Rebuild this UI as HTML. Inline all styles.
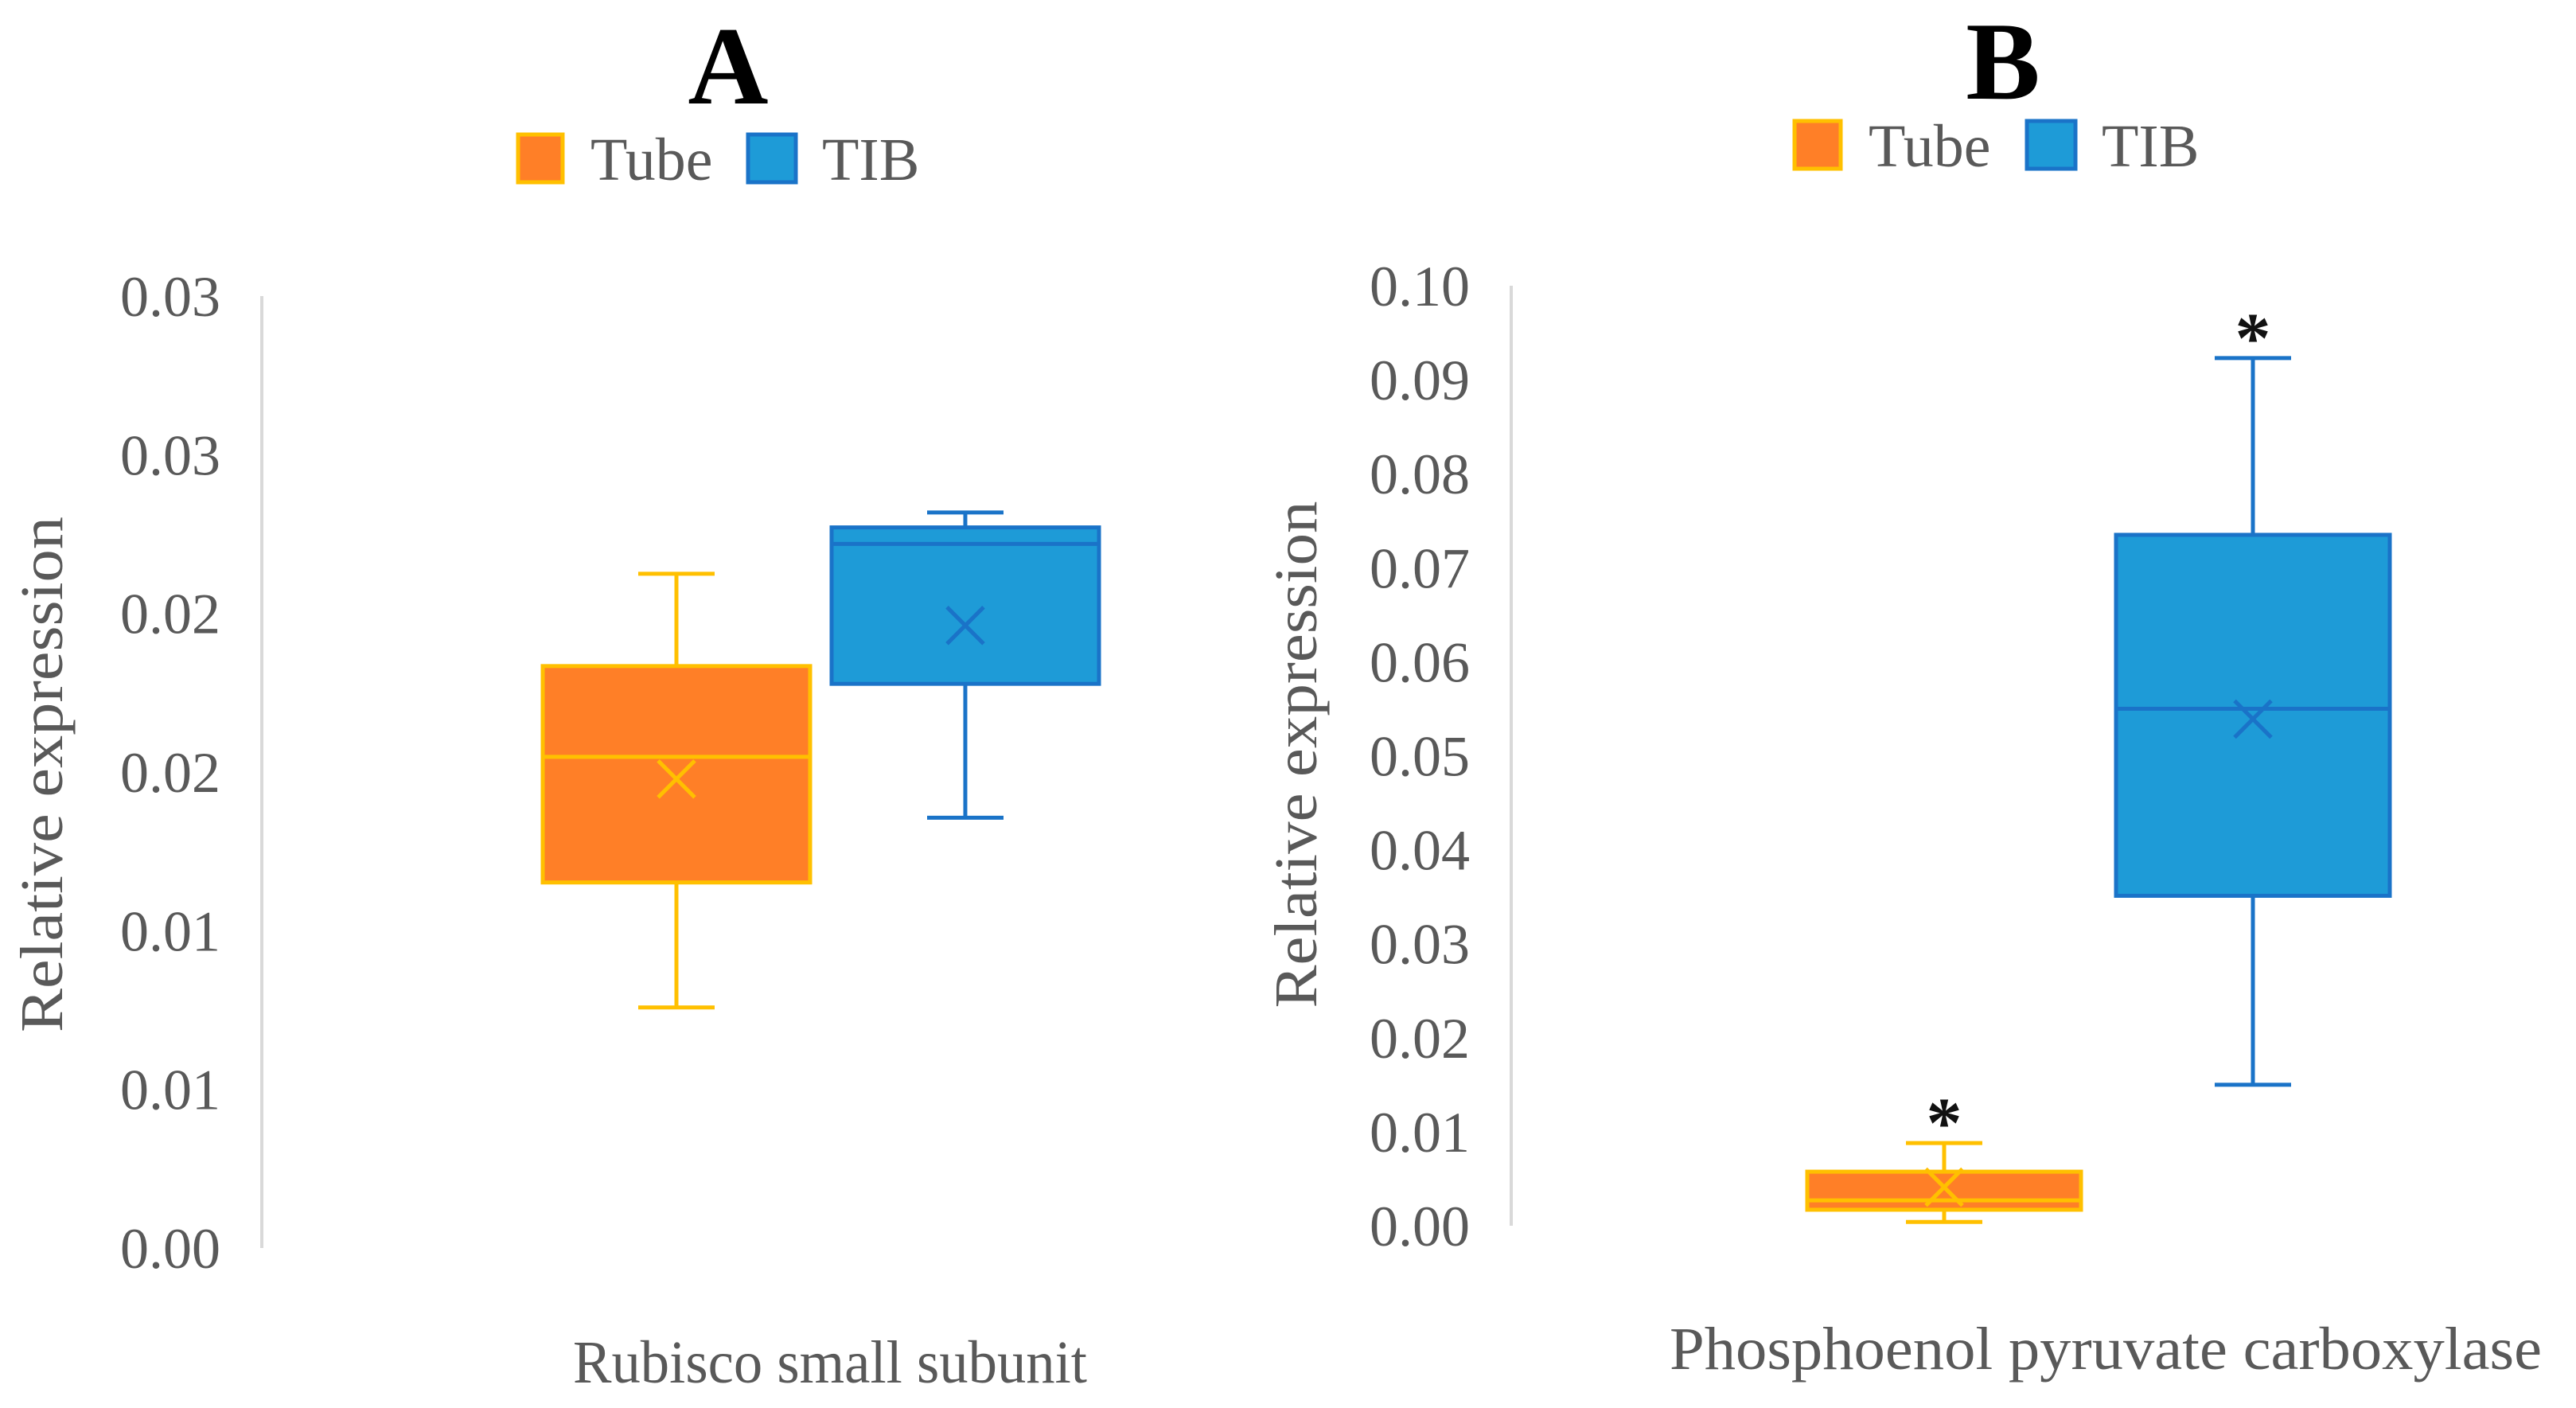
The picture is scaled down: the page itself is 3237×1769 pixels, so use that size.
<!DOCTYPE html>
<html><head><meta charset="utf-8"><style>
html,body{margin:0;padding:0;background:#fff;}
svg{display:block;font-family:"Liberation Serif","Times New Roman",serif;}
svg text{font-family:"Liberation Serif","Times New Roman",serif;}
</style></head><body>
<svg id="chart" width="3237" height="1769" viewBox="0 0 3237 1769" xmlns="http://www.w3.org/2000/svg" font-family="Liberation Serif, serif">
<g>
<text x="915" y="130" font-size="140" font-weight="bold" text-anchor="middle" fill="#000" font-family="Liberation Serif, serif">A</text>
<g>
<rect x="651" y="169" width="56" height="60" fill="#FF7F27" stroke="#FFC000" stroke-width="5"/>
<text x="742" y="226" font-size="76" fill="#595959" font-family="Liberation Serif, serif">Tube</text>
<rect x="940" y="169" width="60" height="60" fill="#1E9BD7" stroke="#1A73C8" stroke-width="5"/>
<text x="1033" y="226" font-size="76" fill="#595959" font-family="Liberation Serif, serif">TIB</text>
</g>
<text transform="translate(78,973) rotate(-90)" font-size="76" text-anchor="middle" fill="#595959" textLength="648" lengthAdjust="spacingAndGlyphs" font-family="Liberation Serif, serif">Relative  expression</text>
<text x="1043" y="1737" font-size="76" text-anchor="middle" fill="#595959" textLength="646" lengthAdjust="spacingAndGlyphs" font-family="Liberation Serif, serif">Rubisco small subunit</text>
<g id="axA"></g>
</g>
<g>
<text x="2517" y="124" font-size="140" font-weight="bold" text-anchor="middle" fill="#000" font-family="Liberation Serif, serif">B</text>
<g>
<rect x="2255" y="152" width="58" height="60" fill="#FF7F27" stroke="#FFC000" stroke-width="5"/>
<text x="2348" y="209" font-size="76" fill="#595959" font-family="Liberation Serif, serif">Tube</text>
<rect x="2547" y="152" width="61" height="60" fill="#1E9BD7" stroke="#1A73C8" stroke-width="5"/>
<text x="2641" y="209" font-size="76" fill="#595959" font-family="Liberation Serif, serif">TIB</text>
</g>
<text transform="translate(1654,948) rotate(-90)" font-size="76" text-anchor="middle" fill="#595959" textLength="637" lengthAdjust="spacingAndGlyphs" font-family="Liberation Serif, serif">Relative expression</text>
<text x="2646" y="1720" font-size="76" text-anchor="middle" fill="#595959" textLength="1096" lengthAdjust="spacingAndGlyphs" font-family="Liberation Serif, serif">Phosphoenol pyruvate carboxylase</text>
<g id="axB"></g>
</g>
</svg>
<script>
// Panel A data
const ticksA = [0, 0.005, 0.01, 0.015, 0.02, 0.025, 0.03];
const tickLabelsA = ["0.00","0.01","0.01","0.02","0.02","0.03","0.03"];
const seriesNames = ["Tube","TIB"];
const minA = [0.00758, 0.01356];
const q1A = [0.01152, 0.01778];
const medA = [0.01548, 0.02219];
const q3A = [0.01834, 0.02271];
const maxA = [0.02125, 0.02318];
const meanA = [0.01478, 0.01962];
const starA = [false, false];
// Panel B data
const ticksB = [0,0.01,0.02,0.03,0.04,0.05,0.06,0.07,0.08,0.09,0.10];
const tickLabelsB = ["0.00","0.01","0.02","0.03","0.04","0.05","0.06","0.07","0.08","0.09","0.10"];
const minB = [0.0004, 0.0150];
const q1B = [0.0017, 0.0351];
const medB = [0.0027, 0.0550];
const q3B = [0.00575, 0.0735];
const maxB = [0.0088, 0.0923];
const meanB = [0.0041, 0.0539];
const starB = [true, true];

const NS = "http://www.w3.org/2000/svg";
const fills = ["#FF7F27","#1E9BD7"], strokes = ["#FFC000","#1A73C8"];
function mk(tag, attrs, parent){const e=document.createElementNS(NS,tag);for(const k in attrs)e.setAttribute(k,attrs[k]);parent.appendChild(e);return e;}

function drawPanel(g, cfg){
  const y = v => cfg.y0 + (v - cfg.vmin)/(cfg.vmax - cfg.vmin)*(cfg.y1 - cfg.y0);
  const axis = mk('line',{x1:cfg.axisX,x2:cfg.axisX,y1:y(cfg.vmax),y2:y(cfg.vmin),stroke:'#d9d9d9','stroke-width':4},g);
  
  
  cfg.ticks.forEach((t,i)=>{
    const tx = mk('text',{x:cfg.labelX,y:y(t)+25,'font-size':72,'text-anchor':'end',fill:'#595959','font-family':'Liberation Serif, serif'},g);
    
    
    tx.textContent = cfg.tickLabels[i];
  });
  for(let i=0;i<2;i++){
    const cx = cfg.centers[i], hw = cfg.halfW, cw = 48;
    const bg = mk('g',{},g);
    
    
    const st = {stroke:strokes[i],'stroke-width':5};
    mk('line',Object.assign({x1:cx,x2:cx,y1:y(cfg.max[i]),y2:y(cfg.q3[i])},st),bg);
    mk('line',Object.assign({x1:cx,x2:cx,y1:y(cfg.q1[i]),y2:y(cfg.min[i])},st),bg);
    mk('line',Object.assign({x1:cx-cw,x2:cx+cw,y1:y(cfg.max[i]),y2:y(cfg.max[i])},st),bg);
    mk('line',Object.assign({x1:cx-cw,x2:cx+cw,y1:y(cfg.min[i]),y2:y(cfg.min[i])},st),bg);
    mk('rect',Object.assign({x:cx-hw,y:y(cfg.q3[i]),width:2*hw,height:y(cfg.q1[i])-y(cfg.q3[i]),fill:fills[i]},st),bg);
    mk('line',Object.assign({x1:cx-hw,x2:cx+hw,y1:y(cfg.med[i]),y2:y(cfg.med[i])},st),bg);
    const my = y(cfg.mean[i]), s = 23;
    mk('path',Object.assign({d:`M${cx-s},${my-s}L${cx+s},${my+s}M${cx+s},${my-s}L${cx-s},${my+s}`,fill:'none'},st),bg);
    if(cfg.star[i]){
      const a = mk('text',{x:cx,y:y(cfg.max[i])+5,'font-size':90,'font-weight':'bold','text-anchor':'middle',fill:'#111','font-family':'Liberation Serif, serif'},bg);
      
      
      a.textContent='*';
    }
  }
}
drawPanel(document.getElementById('axA'),{vmin:0,vmax:0.03,y0:1568,y1:372,axisX:329,labelX:277,ticks:ticksA,tickLabels:tickLabelsA,centers:[850,1213],halfW:168,min:minA,q1:q1A,med:medA,q3:q3A,max:maxA,mean:meanA,star:starA});
drawPanel(document.getElementById('axB'),{vmin:0,vmax:0.10,y0:1540,y1:359,axisX:1899,labelX:1847,ticks:ticksB,tickLabels:tickLabelsB,centers:[2443,2831],halfW:172,min:minB,q1:q1B,med:medB,q3:q3B,max:maxB,mean:meanB,star:starB});
</script>
</body></html>
